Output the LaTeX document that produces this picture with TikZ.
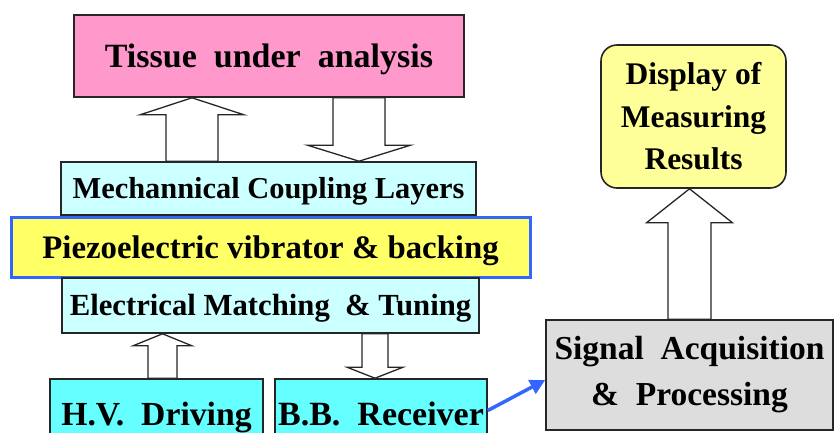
\documentclass[tikz,border=0pt]{standalone}
\usepackage{fontspec}
\setmainfont{Liberation Serif}[BoldFont={Liberation Serif Bold}]
\newfontfamily\labelfont{Liberation Serif Bold}
\usetikzlibrary{calc,arrows.meta}

\definecolor{tissuepink}{RGB}{255,153,204}
\definecolor{layercyan}{RGB}{204,255,255}
\definecolor{piezoyellow}{RGB}{255,255,102}
\definecolor{edgeblue}{RGB}{51,102,255}
\definecolor{drivecyan}{RGB}{102,255,255}
\definecolor{procgray}{RGB}{221,221,221}
\definecolor{displayyellow}{RGB}{255,255,153}

% bold serif text at a given size and line spacing
\newcommand\boldsize[2]{\labelfont\fontsize{#1}{#2}\selectfont}

% hollow block arrow: x centre, half shaft width, half head width,
% signed head length (positive = pointing up), start anchor, tip anchor
\newcommand\fatarrow[6]{%
  \draw[fat] let \p1=(#5), \p2=(#6) in
    ({(#1-#2)*1pt},\y1) -- ({(#1-#2)*1pt},{\y2-(#4pt)}) --
    ({(#1-#3)*1pt},{\y2-(#4pt)}) -- ({#1*1pt},\y2) --
    ({(#1+#3)*1pt},{\y2-(#4pt)}) -- ({(#1+#2)*1pt},{\y2-(#4pt)}) --
    ({(#1+#2)*1pt},\y1) -- cycle;}

\begin{document}
\begin{tikzpicture}[x=1pt,y=-1pt,
  box/.style={draw=black!85, line width=1.6pt, inner sep=0pt, align=center},
  % single line label centred on its capitals
  oneline/.style={box, text height=#1, text depth=0pt},
  fat/.style={draw=black!85, line width=1.3pt, fill=white, line join=miter}]
\useasboundingbox (0,0) rectangle (834,432);
\clip (0,0) rectangle (834,432);

% transducer stack
\node[oneline=22.4pt, fill=tissuepink, minimum width=390, minimum height=82,
      font=\boldsize{34}{41}] (tissue) at (269,56) {Tissue~ under~ analysis};
\node[oneline=20pt, fill=layercyan, minimum width=415, minimum height=53,
      font=\boldsize{30.4}{36}] (mech) at (268.5,188.5) {Mechannical Coupling Layers};
\node[oneline=21.6pt, draw=edgeblue, line width=3pt, fill=piezoyellow, minimum width=519,
      minimum height=60, font=\boldsize{32.8}{39}] (piezo) at (270.5,247.5)
      {Piezoelectric vibrator \& backing};
\node[oneline=20.3pt, fill=layercyan, minimum width=417, minimum height=55,
      font=\boldsize{30.7}{37}] (elec) at (270.5,305.5) {Electrical Matching~ \& Tuning};

% front-end electronics
\node[oneline=22.2pt, fill=drivecyan, minimum width=213, minimum height=71,
      font=\boldsize{33.7}{40}] (hv) at (156.5,414.5) {H.V.~ Driving};
\node[oneline=22.4pt, fill=drivecyan, minimum width=212, minimum height=71,
      font=\boldsize{34}{40}] (bb) at (381,414.5) {B.B.~ Receiver};

% processing and display
\node[box, fill=procgray, minimum width=287, minimum height=110,
      font=\boldsize{33.5}{46}] (sig) at (689.5,375) {Signal~ Acquisition\\\&~ Processing};
\node[box, fill=displayyellow, rounded corners=16pt, minimum width=185,
      minimum height=143, font=\boldsize{31.5}{42.5}] (disp) at (693.5,116.5)
      {Display of\\Measuring\\Results};

% block arrows
\fatarrow{192}{26}{52}{17}{mech.north}{tissue.south}
\fatarrow{359}{26}{51.5}{-16}{tissue.south}{mech.north}
\fatarrow{162.5}{14.5}{29.5}{12}{hv.north}{elec.south}
\fatarrow{375}{13}{28}{-11}{elec.south}{bb.north}
\fatarrow{689.5}{21.5}{43}{34}{sig.north}{disp.south}

% received signal to processing
\draw[edgeblue, line width=3.5pt, -{Triangle[length=15pt,width=15pt]}]
  ($(bb.east)+(0,-4)$) -- ($(sig.west)+(0,5)$);
\end{tikzpicture}
\end{document}
